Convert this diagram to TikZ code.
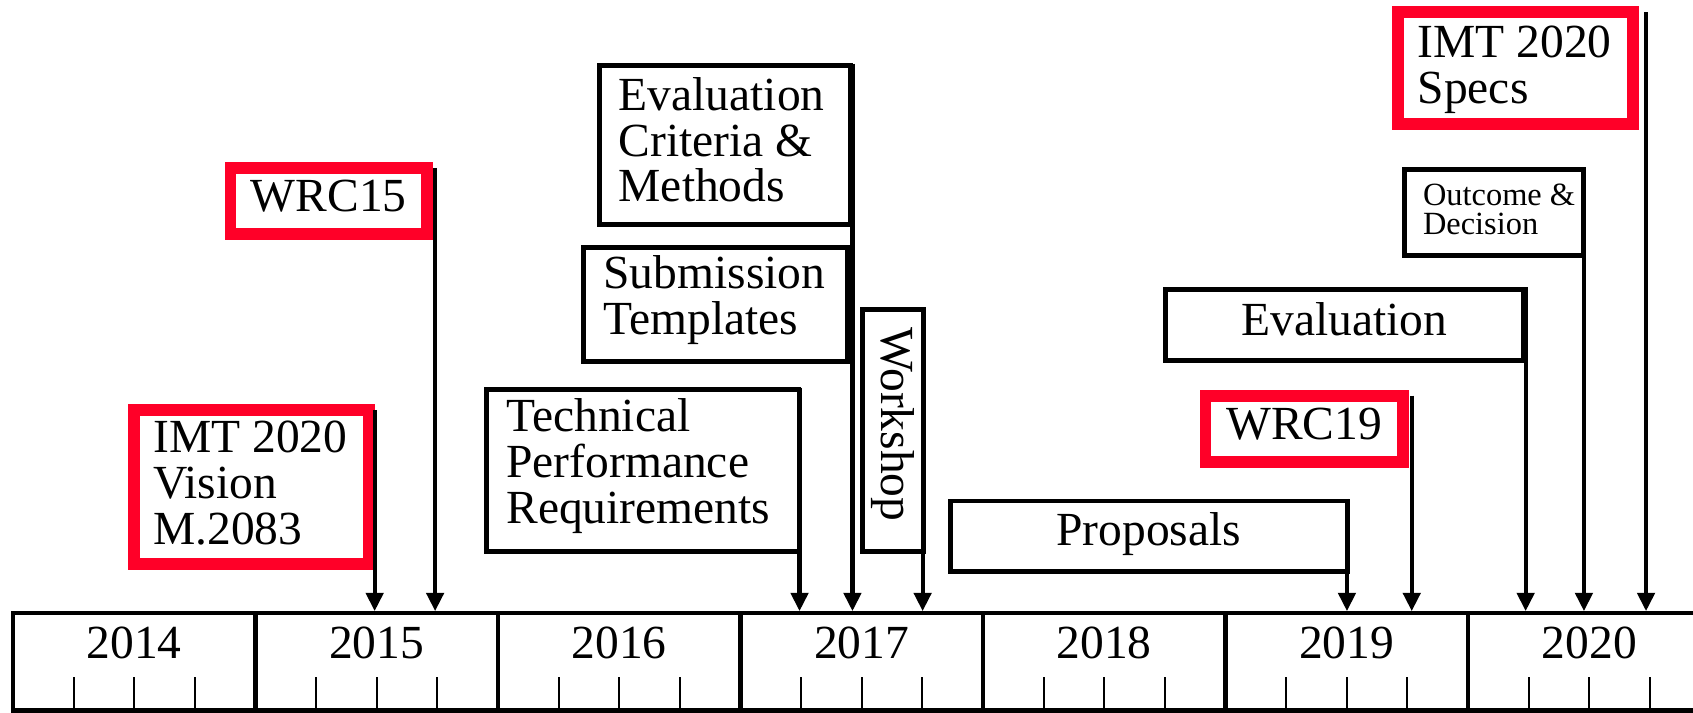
\documentclass[tikz,border=0pt]{standalone}
\usepackage{fontspec}
\setmainfont{Liberation Serif}
\usetikzlibrary{arrows.meta}
\definecolor{imtred}{RGB}{255,0,40}
\newcommand\fbig{\fontsize{22}{21.25}\selectfont}
\newcommand\fsmall{\fontsize{15}{13.75}\selectfont}
\begin{document}
\begin{tikzpicture}[x=0.5pt,y=-0.5pt,
  anybox/.style={anchor=north west, fill=white, inner ysep=0pt, outer sep=0pt, font=\fbig},
  blkbox/.style={anybox, draw=black, line width=2.3pt},
  redbox/.style={anybox, draw=imtred, line width=5.5pt},
  lbox/.style={align=flush left},
  cbox/.style={align=center, inner xsep=0pt},
  yearseg/.style={draw, line width=2pt, minimum width=112.3pt, minimum height=45pt,
    inner sep=0pt, text height=15pt, text depth=18pt, font=\fbig},
  tickln/.style={line width=0.9pt},
  conn/.style={line width=1.9pt, -{Triangle[length=8.5pt,width=8pt]}}]
\path[use as bounding box] (0,0) rectangle (1568,660);
\clip (0,0) rectangle (1568,660);

% boxes
\node[redbox, lbox, inner xsep=8.75pt, text width=91pt, text height=19.75pt, text depth=51.75pt]
  (vis) at (124.5,379.5) {\mbox{IMT 2020}\\Vision\\M.2083};
\node[redbox, cbox, text width=91pt, text height=20.25pt, text depth=10.25pt]
  (w15) at (213.5,155.5) {WRC15};
\node[blkbox, lbox, inner xsep=9pt, text width=126.5pt, text height=19.5pt, text depth=55.5pt]
  (tp) at (451,361) {Technical\\Performance\\Requirements};
\node[blkbox, lbox, inner xsep=9pt, text width=98.5pt, text height=20.5pt, text depth=53pt]
  (ec) at (555,61) {Evaluation\\\mbox{Criteria \&}\\Methods};
\node[blkbox, lbox, inner xsep=9.5pt, text width=103.5pt, text height=19pt, text depth=34pt]
  (st) at (540,229) {Submission\\Templates};
\node[draw, line width=2.3pt, fill=white, outer sep=0pt, inner sep=0pt, font=\fbig,
  rotate=-90, minimum width=112pt, minimum height=28pt]
  (wk) at (827,399) {Workshop\hspace*{6pt}};
\node[blkbox, cbox, text width=184pt, text height=20.5pt, text depth=12pt]
  (pr) at (880,464) {Proposals};
\node[redbox, cbox, text width=91.5pt, text height=20.5pt, text depth=10pt]
  (w19) at (1116.5,366.5) {WRC19};
\node[blkbox, cbox, text width=166pt, text height=21.5pt, text depth=11.5pt]
  (ev) at (1079,268) {Evaluation};
\node[blkbox, lbox, font=\fsmall, inner xsep=8.5pt, text width=66pt, text height=16.5pt, text depth=23.5pt]
  (od) at (1301,157) {\mbox{Outcome \&}\\Decision};
\node[redbox, lbox, inner xsep=9.25pt, text width=90.5pt, text height=20.75pt, text depth=30.75pt]
  (sp) at (1294.5,11.5) {\mbox{IMT 2020}\\Specs};

% timeline
\node[yearseg] (y2014) at (124.3,613) {2014};
\node[yearseg] (y2015) at (348.9,613) {2015};
\node[yearseg] (y2016) at (573.5,613) {2016};
\node[yearseg] (y2017) at (798.1,613) {2017};
\node[yearseg] (y2018) at (1022.7,613) {2018};
\node[yearseg] (y2019) at (1247.3,613) {2019};
\node[yearseg] (y2020) at (1471.9,613) {2020};
\foreach \yr in {2014,...,2020}
  \foreach \d in {-28.075,0,28.075}
    \draw[tickln] ([xshift=\d pt]y\yr.south) -- ++(0,-33);

% connectors
\coordinate (s-vis) at ([xshift=2.75pt]vis.north east);
\coordinate (s-w15) at ([xshift=3.75pt]w15.north east);
\coordinate (s-tp)  at ([xshift=0.25pt,yshift=1pt]tp.north east);
\coordinate (s-ec)  at ([xshift=0.75pt,yshift=1pt]ec.north east);
\coordinate (s-wk)  at ([xshift=-0.25pt,yshift=1pt]wk.north west);
\coordinate (s-pr)  at ([xshift=-0.25pt,yshift=1pt]pr.north east);
\coordinate (s-w19) at ([xshift=4pt]w19.north east);
\coordinate (s-ev)  at ([xshift=1pt,yshift=1pt]ev.north east);
\coordinate (s-od)  at ([yshift=1pt]od.north east);
\coordinate (s-sp)  at ([xshift=6pt]sp.north east);

\draw[conn] (s-vis) -- (s-vis |- y2015.north);
\draw[conn] (s-w15) -- (s-w15 |- y2015.north);
\draw[conn] (s-tp)  -- (s-tp  |- y2017.north);
\draw[conn] (s-ec)  -- (s-ec  |- y2017.north);
\draw[conn] (s-wk)  -- (s-wk  |- y2017.north);
\draw[conn] (s-pr)  -- (s-pr  |- y2019.north);
\draw[conn] (s-w19) -- (s-w19 |- y2019.north);
\draw[conn] (s-ev)  -- (s-ev  |- y2020.north);
\draw[conn] (s-od)  -- (s-od  |- y2020.north);
\draw[conn] (s-sp)  -- (s-sp  |- y2020.north);
\end{tikzpicture}
\end{document}
